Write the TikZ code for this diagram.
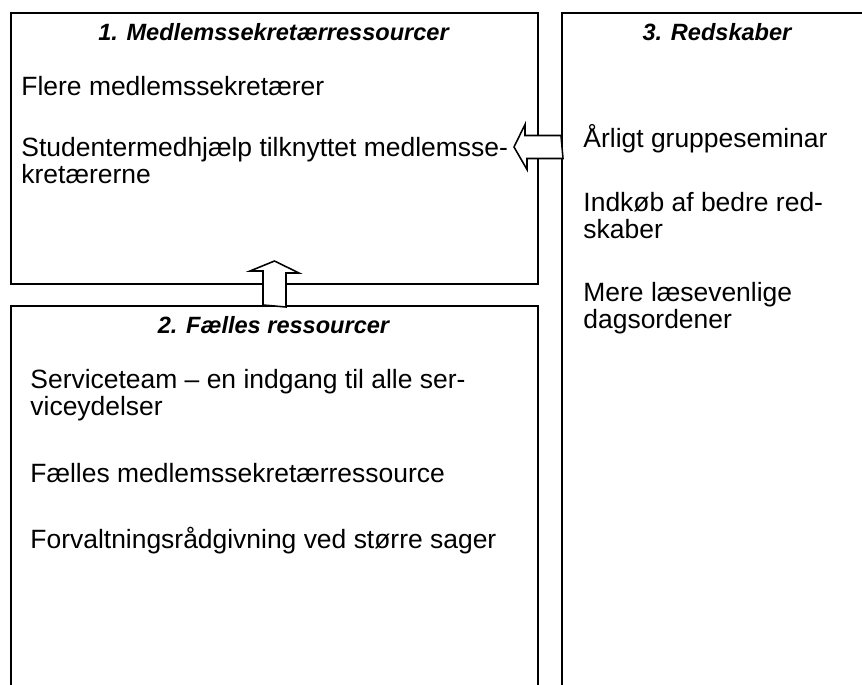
\documentclass[tikz,border=0pt]{standalone}
\usepackage{fontspec}
\setmainfont{Liberation Sans}
\usetikzlibrary{calc}

\newcommand{\pxu}{0.45pt}

\begin{document}
\begin{tikzpicture}[x = 0.45pt, y = -0.45pt,
    box/.style = {draw, line width = 0.9pt, anchor = north west, inner sep = 0},
    boxtitle/.style = {anchor = base, inner sep = 0,
        font = \fontsize{10.6pt}{12pt}\selectfont\bfseries\itshape},
    item/.style = {anchor = base west, inner sep = 0, align = left,
        font = \fontsize{11.9pt}{11.9pt}\selectfont},
    blockarrow/.style = {draw, fill = white, line width = 0.7pt, line join = miter}]
    \useasboundingbox (0, 0) rectangle (862, 684);
    \clip (0, 0) rectangle (862, 684);

    \node[box, minimum width = 527*\pxu, minimum height = 271*\pxu] (medlem) at (10, 12) {};
    \node[box, minimum width = 527*\pxu, minimum height = 400*\pxu] (faelles) at (10, 305) {};
    \node[box, minimum width = 312*\pxu, minimum height = 700*\pxu] (redskab) at (561, 12) {};

    \node[boxtitle] (medlemtitle) at (273.5, 40) {1. Medlemssekretærressourcer};
    \node[item] (flere) at (21, 95) {Flere medlemssekretærer};
    \node[item] (studenter) at (21, 183) {Studentermedhjælp tilknyttet medlemsse-\\kretærerne};

    \node[boxtitle] (faellestitle) at (273.5, 333) {2. Fælles ressourcer};
    \node[item] (serviceteam) at (30, 415) {Serviceteam – en indgang til alle ser-\\viceydelser};
    \node[item] (faellesmedlem) at (30, 482) {Fælles medlemssekretærressource};
    \node[item] (forvaltning) at (30, 548) {Forvaltningsrådgivning ved større sager};

    \node[boxtitle] (redskabtitle) at (717, 40) {3. Redskaber};
    \node[item] (seminar) at (583, 147) {Årligt gruppeseminar};
    \node[item] (indkoeb) at (583, 238) {Indkøb af bedre red-\\skaber};
    \node[item] (dagsorden) at (583, 328) {Mere læsevenlige\\dagsordener};

    \coordinate (toolout) at (redskab.west |- 0, 147);
    \coordinate (toolin) at ($(medlem.east |- 0, 147) + (-25, 0)$);
    \draw[blockarrow] (toolout) ++(0, -11.5) -- ++(-36, 0) -- ++(0, -11) -- (toolin)
        -- ++(13, 22.5) -- ++(0, -11) -- ++(36, 0) -- cycle;

    \coordinate (poolout) at (faelles.north);
    \coordinate (poolin) at ($(medlem.south) + (0, -24)$);
    \draw[blockarrow] (poolout) ++(-11.5, 0) -- ++(0, -34) -- ++(-13, 0) -- (poolin)
        -- ++(24.5, 12) -- ++(-13, 0) -- ++(0, 34) -- cycle;

\end{tikzpicture}
\end{document}
